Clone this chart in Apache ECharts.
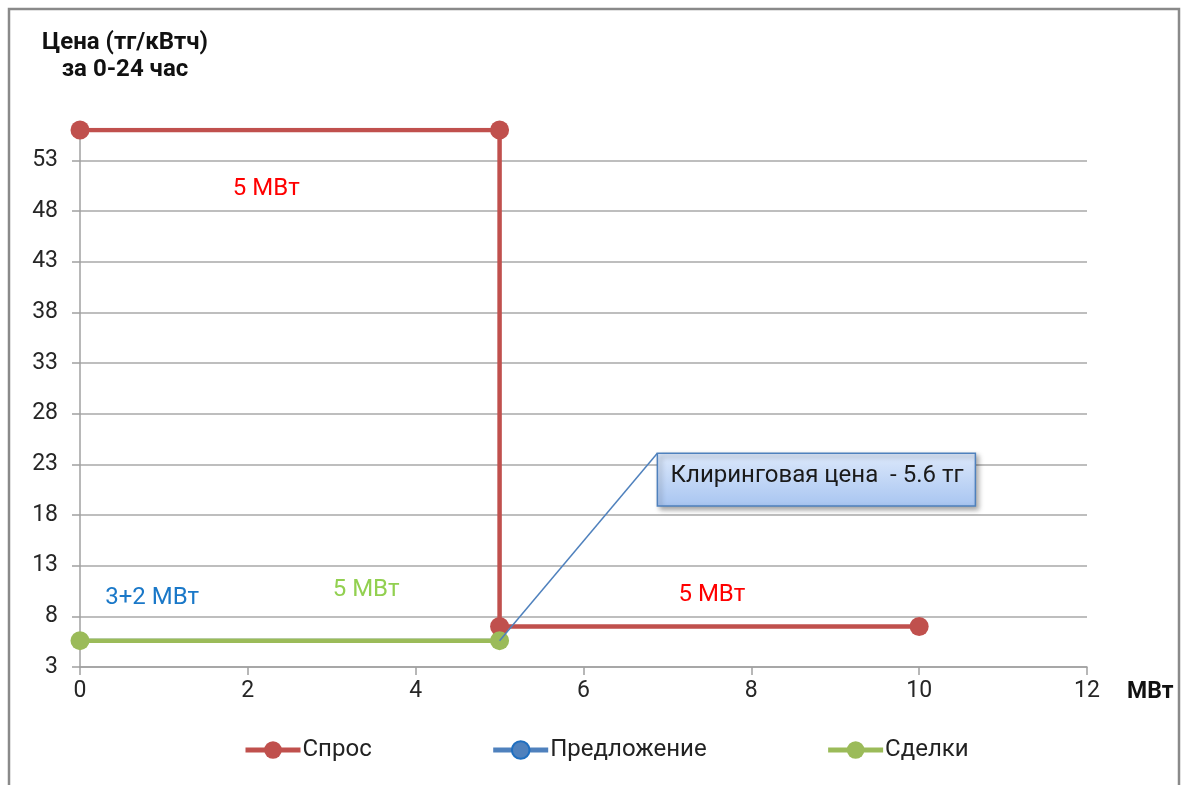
<!DOCTYPE html>
<html>
<head>
<meta charset="utf-8">
<script src="https://cdn.jsdelivr.net/npm/echarts@6/dist/echarts.min.js"></script>
<style>
  html, body { margin: 0; padding: 0; background: #fff; }
  #chart { width: 1186px; height: 785px; }
</style>
</head>
<body>
<div id="chart"></div>
<script>
// Step curves: demand, supply (hidden under deals), deals.
const demandX = [0, 5, 5, 10];
const demandY = [56, 56, 7, 7];
const supplyX = [0, 5];
const supplyY = [5.6, 5.6];
const dealsX = [0, 5];
const dealsY = [5.6, 5.6];

const seriesNames = ["Спрос", "Предложение", "Сделки"];
const yTicks = { min: 3, max: 56, step: 5 };
const xTicks = { min: 0, max: 12, step: 2 };

// Text annotations, placed in data units.
const demandNotes = [{ at: [2.22, 50.2], text: "5 МВт" }, { at: [7.53, 10.1], text: "5 МВт" }];
const supplyNotes = [{ at: [0.86, 9.8], text: "3+2 МВт" }];
const dealsNotes = [{ at: [3.41, 10.6], text: "5 МВт" }];
const clearing = { point: [5, 5.6], boxFrom: [6.88, 24.1], boxTo: [10.67, 18.9], text: "Клиринговая цена  - 5.6 тг" };

const FONT = "Roboto, 'DejaVu Sans', sans-serif";
const RED = "#c0504d", BLUE = "#4f81bd", GREEN = "#9bbb59";

const zip = (xs, ys) => xs.map((x, i) => [x, ys[i]]);
const notes = (list, color) => ({
  symbol: "circle",
  symbolSize: 4,
  itemStyle: { color: "transparent" },
  label: { show: true, position: "inside", color, fontSize: 24, fontFamily: FONT, formatter: p => p.name },
  data: list.map(n => ({ name: n.text, coord: n.at })),
});

const lineSeries = (name, data, color, extra = {}) => ({
  name, type: "line", data,
  symbol: "circle", symbolSize: 19,
  lineStyle: { color, width: 4.5 },
  itemStyle: { color },
  emphasis: { disabled: true },
  animation: false,
  ...extra,
});

const chart = echarts.init(document.getElementById("chart"), null, { renderer: "canvas" });
chart.setOption({
  backgroundColor: "#fff",
  animation: false,
  graphic: [{
    type: "rect", silent: true,
    shape: { x: 9, y: 9, width: 1170, height: 800 },
    style: { fill: "none", stroke: "#8a8a8a", lineWidth: 2.5 },
  }],
  title: {
    text: "Цена (тг/кВтч)\nза 0-24 час",
    left: 120, top: 24, textAlign: "center",
    textStyle: { fontFamily: FONT, fontSize: 24, fontWeight: "bold", color: "#111", lineHeight: 27, align: "center" },
  },
  grid: { left: 80, right: 99, top: 130, bottom: 118, containLabel: false },
  legend: {
    data: [
      { name: seriesNames[0] },
      { name: seriesNames[1], itemStyle: { color: BLUE, borderColor: "#1f6fc0", borderWidth: 2 } },
      { name: seriesNames[2] },
    ],
    left: 243, top: 738, padding: 0,
    itemWidth: 55, itemHeight: 22, itemGap: 119,
    lineStyle: { width: 5 },
    textStyle: { fontFamily: FONT, fontSize: 24, color: "#222", padding: [0, 0, 0, -3] },
  },
  xAxis: {
    type: "value", min: xTicks.min, max: xTicks.max, interval: xTicks.step,
    name: "МВт", nameLocation: "end", nameGap: 40,
    nameTextStyle: { fontFamily: FONT, fontSize: 23, fontWeight: "bold", color: "#111", verticalAlign: "top", padding: [14, 0, 0, 0] },
    axisLine: { show: true, lineStyle: { color: "#a0a0a0", width: 1.5 } },
    axisTick: { show: true, length: 8, lineStyle: { color: "#a0a0a0", width: 1.5 } },
    axisLabel: { fontFamily: FONT, fontSize: 23, color: "#262626", margin: 13 },
    splitLine: { show: false },
  },
  yAxis: {
    type: "value", min: yTicks.min, max: yTicks.max, interval: yTicks.step,
    axisLine: { show: true, lineStyle: { color: "#a0a0a0", width: 1.5 } },
    axisTick: { show: true, length: 8, lineStyle: { color: "#a0a0a0", width: 1.5 } },
    axisLabel: { fontFamily: FONT, fontSize: 23, color: "#262626", margin: 22, showMaxLabel: false },
    splitLine: { show: true, showMaxLine: false, lineStyle: { color: "#a8a8a8", width: 1.5 } },
  },
  series: [
    lineSeries(seriesNames[0], zip(demandX, demandY), RED, { markPoint: notes(demandNotes, "#ff0000") }),
    lineSeries(seriesNames[1], zip(supplyX, supplyY), BLUE, {
      symbolSize: 16,
      lineStyle: { color: BLUE, width: 4 },
      markPoint: notes(supplyNotes, "#1a78c8"),
    }),
    lineSeries(seriesNames[2], zip(dealsX, dealsY), GREEN, {
      markPoint: notes(dealsNotes, "#92d050"),
      markLine: {
        silent: true, symbol: ["none", "none"],
        lineStyle: { color: BLUE, width: 1.5, type: "solid" },
        label: { show: false },
        data: [[{ coord: clearing.point }, { coord: clearing.boxFrom }]],
      },
      markArea: {
        silent: true,
        itemStyle: {
          color: { type: "linear", x: 0, y: 0, x2: 0, y2: 1, colorStops: [
            { offset: 0, color: "#dde9fb" }, { offset: 1, color: "#a8c5f1" } ] },
          borderColor: BLUE, borderWidth: 1.5,
          shadowBlur: 5, shadowColor: "rgba(0,0,0,0.35)", shadowOffsetX: 3, shadowOffsetY: 3,
          opacity: 1,
        },
        label: { show: true, position: "insideLeft", distance: 14, color: "#1a1a1a", fontFamily: FONT, fontSize: 24, offset: [0, -4] },
        data: [[{ name: clearing.text, coord: clearing.boxFrom }, { coord: clearing.boxTo }]],
      },
    }),
  ],
});
</script>
</body>
</html>
